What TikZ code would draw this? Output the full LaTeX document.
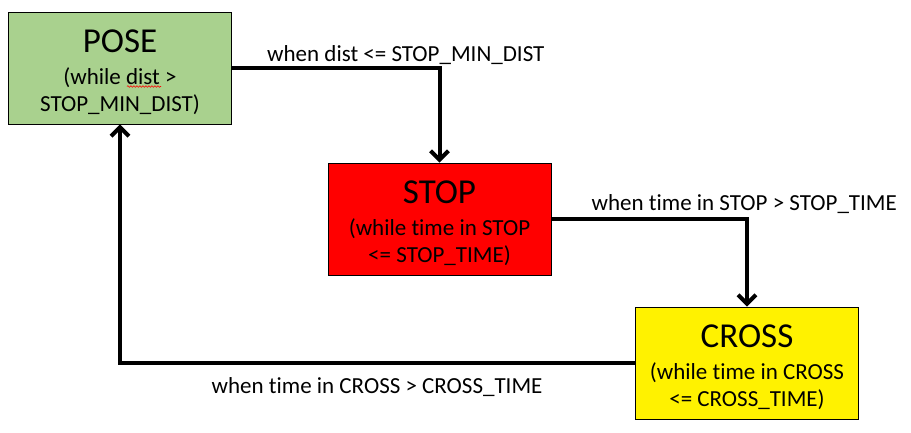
\documentclass[tikz,border=0pt]{standalone}
\usepackage{fontspec}
\setmainfont{Carlito}[RawFeature={-liga;-clig;-calt;-dlig}]
\usetikzlibrary{arrows.meta,decorations.pathmorphing}
\definecolor{posegreen}{RGB}{169,209,142}
\begin{document}
\begin{tikzpicture}[x=1pt,y=-1pt,
  statebox/.style={draw=black, line width=0.8pt, minimum width=223pt, minimum height=112pt,
    inner sep=0pt, align=center, font=\fontsize{23}{26.5}\selectfont},
  flow/.style={line width=4pt, -{Straight Barb[length=9pt,width=18pt]}},
  cond/.style={font=\fontsize{23}{26}\selectfont, inner sep=0pt, anchor=base west},
  squiggle/.style={draw=red, line width=0.6pt, decorate,
    decoration={snake, amplitude=0.8pt, segment length=3pt}}]
\useasboundingbox (0,0) rectangle (911,432);
\node[statebox, fill=posegreen] (pose) at (120,68)
  {\rule{0pt}{31pt}{\fontsize{35}{35}\selectfont POSE}\\[6pt](while dist >\\STOP\_MIN\_DIST)};
\node[statebox, fill=red] (stop) at (439.5,219)
  {\rule{0pt}{31pt}{\fontsize{35}{35}\selectfont STOP}\\[6pt](while time in STOP\\<= STOP\_TIME)};
\node[statebox, fill=yellow] (cross) at (747,363)
  {\rule{0pt}{31pt}{\fontsize{35}{35}\selectfont CROSS}\\[6pt](while time in CROSS\\<= CROSS\_TIME)};
\draw[flow] (pose.east) -| (stop.north);
\draw[flow] (stop.east) -| (cross.north);
\draw[flow] (cross.west) -| (pose.south);
\node[cond] (l1) at (267,61) {when dist <= STOP\_MIN\_DIST};
\node[cond] (l2) at (591.5,210) {when time in STOP > STOP\_TIME};
\node[cond] (l3) at (211.5,393) {when time in CROSS > CROSS\_TIME};
\coordinate (sqa) at (127,86.5);
\coordinate (sqb) at (161,86.5);
\path[squiggle] (sqa) -- (sqb);
\end{tikzpicture}
\end{document}
